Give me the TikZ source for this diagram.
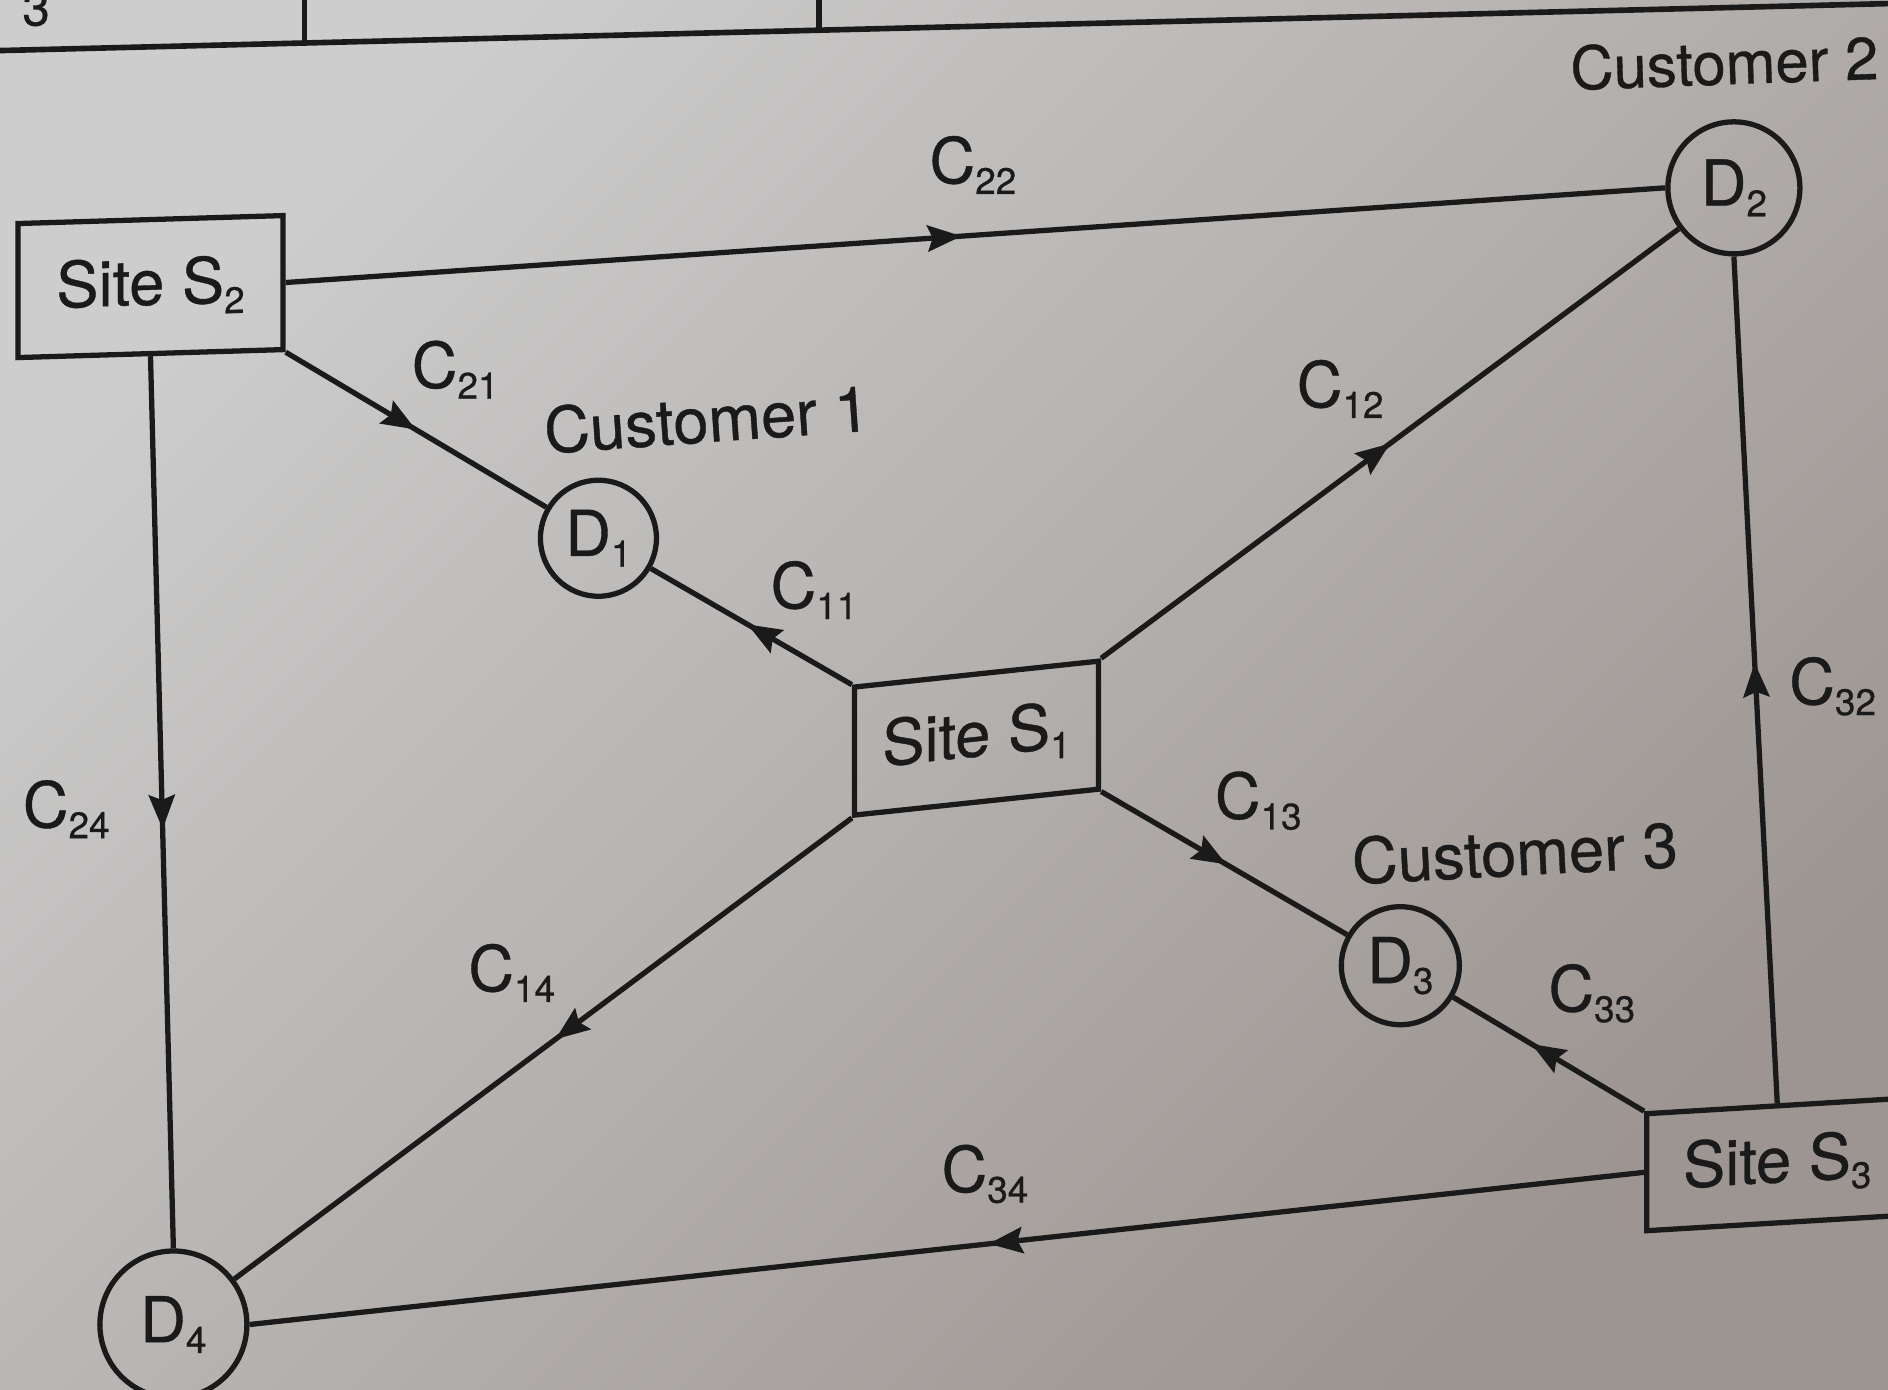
\documentclass[tikz,border=0pt]{standalone}
\usepackage{fontspec}
\setmainfont{TeX Gyre Heros}[FakeBold=0.6]
\usetikzlibrary{arrows.meta,decorations.markings}
\definecolor{ink}{HTML}{1A1A1A}
\definecolor{papertop}{HTML}{CDCDCD}
\definecolor{paperbot}{HTML}{9C9591}
% lowered small index, as in C_{22} or S_1
\newcommand{\lowsub}[1]{\raisebox{-0.17em}{\fontsize{10.5}{12}\selectfont #1}}

\begin{document}
\begin{tikzpicture}[x=0.012041cm, y=-0.012041cm,
  every node/.style={font=\fontsize{18}{21}\selectfont, text=ink},
  site/.style={draw=ink, line width=1.5pt, rectangle, inner sep=0pt, transform shape},
  cust/.style={draw=ink, line width=1.5pt, circle, inner sep=0pt},
  flow/.style={draw=ink, line width=1.5pt, postaction={decorate},
    decoration={markings, mark=at position #1 with
      {\arrow{Stealth[length=3.4mm,width=2.6mm,inset=0.5mm]}}}},
  flow/.default=0.5,
  rule/.style={draw=ink, line width=1.6pt},
]
% paper
\clip (0,0) rectangle (1568,1154);
\useasboundingbox (0,0) rectangle (1568,1154);
\shade[top color=papertop, bottom color=paperbot, shading angle=45]
  (0,0) rectangle (1568,1154);

% bottom rule of the table above
\draw[rule] (0,42) -- (1568,3);
\draw[rule] (253,0) -- (253,36);
\draw[rule] (680,0) -- (680,25);
\node (frag) at (30,7) {\fontsize{14}{16}\selectfont 3};

% sites
\node[site, yslant=0.03, minimum width=2.65cm, minimum height=1.34cm]
  (S2) at (125,238) {Site S\lowsub{2}};
\node[site, yslant=0.106, minimum width=2.44cm, minimum height=1.28cm]
  (S1) at (811,613) {Site S\lowsub{1}};
\node[site, yslant=0.06, minimum width=2.61cm, minimum height=1.17cm]
  (S3) at (1476,967) {Site S\lowsub{3}};

% customers
\node[cust, minimum size=1.16cm] (D1) at (497,447) {D\lowsub{1}};
\node[cust, minimum size=1.32cm] (D2) at (1440,156) {D\lowsub{2}};
\node[cust, minimum size=1.18cm] (D3) at (1163,802) {D\lowsub{3}};
\node[cust, minimum size=1.47cm] (D4) at (144,1100) {D\lowsub{4}};

\node[rotate=2, font=\fontsize{17}{20}\selectfont] (lc2) at (1432,52) {Customer 2};
\node[rotate=4] (lc1) at (587,348) {Customer 1};
\node[rotate=3] (lc3) at (1258,708) {Customer 3};

% shipments
\draw[flow=0.49] (S2.east) -- (D2.west);
\draw[flow=0.5]  (S2.south east) -- (D1);
\draw[flow=0.53] (S2.south) -- (D4.north);
\draw[flow=0.52] (S1.north west) -- (D1);
\draw[flow=0.5]  (S1.north east) -- (D2);
\draw[flow=0.51] (S1.south east) -- (D3);
\draw[flow=0.48] (S1.south west) -- (D4);
\draw[flow=0.59] (S3.north west) -- (D3);
\draw[flow=0.52] (S3.north) -- (D2.south);
\draw[flow=0.47] (S3.west) -- (D4.east);

% unit costs
\node (c22) at (808,137) {C\lowsub{22}};
\node (c21) at (378,307) {C\lowsub{21}};
\node (c12) at (1113,323) {C\lowsub{12}};
\node (c11) at (676,490) {C\lowsub{11}};
\node (c24) at (55,672) {C\lowsub{24}};
\node (c13) at (1045,665) {C\lowsub{13}};
\node (c14) at (425,808) {C\lowsub{14}};
\node (c33) at (1322,825) {C\lowsub{33}};
\node (c32) at (1522,570) {C\lowsub{32}};
\node (c34) at (818,975) {C\lowsub{34}};
\end{tikzpicture}
\end{document}
